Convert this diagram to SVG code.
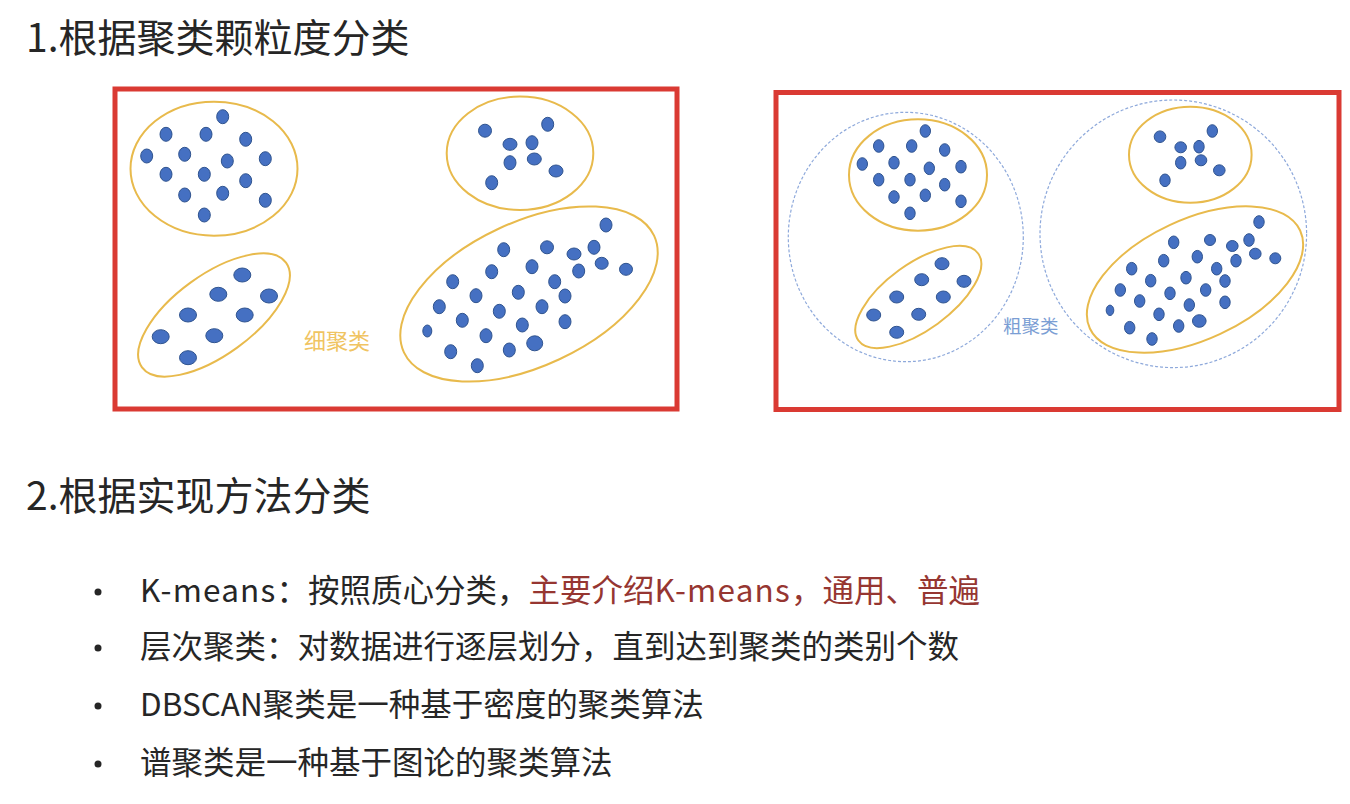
<svg xmlns="http://www.w3.org/2000/svg" width="1350" height="804" viewBox="0 0 1350 804">
<style>
.t{font-family:"Noto Sans CJK SC","Noto Sans",sans-serif;fill:#262626}
.h{font-size:39px}
.b{font-size:31.5px}
.lat{letter-spacing:1.2px}
.box{fill:none;stroke:#DA3A33;stroke-width:5}
.g{fill:none;stroke:#E8BA4C;stroke-width:2}
.dash{fill:none;stroke:#8EA9DB;stroke-width:1.2;stroke-dasharray:3 2}
.d{fill:#4570C2;stroke:#30548F;stroke-width:1}
</style>
<rect width="1350" height="804" fill="#fff"/>
<g id="heading1"><text class="t h" x="26" y="52">1.根据聚类颗粒度分类</text></g>

<g id="fine-clustering">
<rect class="box" x="115" y="89" width="562" height="320"/>
<ellipse class="g" cx="214" cy="168.7" rx="83.5" ry="67"/>
<g>
<ellipse class="d" cx="222.7" cy="116.7" rx="6" ry="7"/>
<ellipse class="d" cx="166" cy="134.3" rx="6" ry="7"/>
<ellipse class="d" cx="206" cy="134.3" rx="6" ry="7"/>
<ellipse class="d" cx="245.7" cy="139.3" rx="6" ry="7"/>
<ellipse class="d" cx="146.7" cy="156" rx="6" ry="7"/>
<ellipse class="d" cx="184.7" cy="154.3" rx="6" ry="7"/>
<ellipse class="d" cx="227.3" cy="161" rx="6" ry="7"/>
<ellipse class="d" cx="265.3" cy="158.7" rx="6" ry="7"/>
<ellipse class="d" cx="166" cy="174.3" rx="6" ry="7"/>
<ellipse class="d" cx="204.3" cy="174.3" rx="6" ry="7"/>
<ellipse class="d" cx="245.7" cy="180.7" rx="6" ry="7"/>
<ellipse class="d" cx="184.7" cy="195" rx="6" ry="7"/>
<ellipse class="d" cx="222.7" cy="193.3" rx="6" ry="7"/>
<ellipse class="d" cx="265.3" cy="200.3" rx="6" ry="7"/>
<ellipse class="d" cx="204.3" cy="215" rx="6" ry="7"/>
</g>
<ellipse class="g" cx="214" cy="315" rx="89" ry="40" transform="rotate(-36 214 315)"/>
<g>
<ellipse class="d" cx="242.3" cy="275" rx="8.5" ry="7"/>
<ellipse class="d" cx="218.3" cy="294.3" rx="8.5" ry="7"/>
<ellipse class="d" cx="269" cy="296" rx="8.5" ry="7"/>
<ellipse class="d" cx="188" cy="315" rx="8.5" ry="7"/>
<ellipse class="d" cx="244.7" cy="315" rx="8.5" ry="7"/>
<ellipse class="d" cx="160.7" cy="336.7" rx="8.5" ry="7"/>
<ellipse class="d" cx="214.3" cy="335.7" rx="8.5" ry="7"/>
<ellipse class="d" cx="188" cy="357.7" rx="8.5" ry="7"/>
</g>
<ellipse class="g" cx="520" cy="153.3" rx="73.3" ry="56.7"/>
<g>
<ellipse class="d" cx="485" cy="130.7" rx="6.5" ry="6.5"/>
<ellipse class="d" cx="547.7" cy="124.3" rx="6" ry="7"/>
<ellipse class="d" cx="510" cy="144.3" rx="7" ry="6"/>
<ellipse class="d" cx="532" cy="142.7" rx="6" ry="7"/>
<ellipse class="d" cx="510" cy="162.7" rx="6" ry="7"/>
<ellipse class="d" cx="534.3" cy="159" rx="7" ry="6"/>
<ellipse class="d" cx="556" cy="171" rx="7" ry="6"/>
<ellipse class="d" cx="491.7" cy="182.7" rx="6" ry="7"/>
</g>
<ellipse class="g" cx="529" cy="294" rx="138" ry="72" transform="rotate(-25 529 294)"/>
<g>
<ellipse class="d" cx="606" cy="225" rx="6" ry="7"/>
<ellipse class="d" cx="503.7" cy="249.7" rx="6" ry="7"/>
<ellipse class="d" cx="547" cy="247.3" rx="6.5" ry="6.5"/>
<ellipse class="d" cx="574" cy="254" rx="7" ry="6"/>
<ellipse class="d" cx="594" cy="247.3" rx="6" ry="7"/>
<ellipse class="d" cx="601.7" cy="263.3" rx="6.5" ry="6"/>
<ellipse class="d" cx="626" cy="269.3" rx="6.5" ry="6"/>
<ellipse class="d" cx="491.7" cy="271.7" rx="6" ry="7"/>
<ellipse class="d" cx="532" cy="266.7" rx="6" ry="7"/>
<ellipse class="d" cx="578.7" cy="271" rx="6" ry="7"/>
<ellipse class="d" cx="452.7" cy="281.7" rx="6" ry="7"/>
<ellipse class="d" cx="554.7" cy="281.7" rx="6" ry="7"/>
<ellipse class="d" cx="476" cy="295.7" rx="6" ry="7"/>
<ellipse class="d" cx="518.3" cy="292.3" rx="6" ry="7"/>
<ellipse class="d" cx="565" cy="296" rx="6" ry="7"/>
<ellipse class="d" cx="439.3" cy="306.7" rx="6" ry="7"/>
<ellipse class="d" cx="499.3" cy="311.3" rx="6" ry="7"/>
<ellipse class="d" cx="542" cy="306.7" rx="6" ry="7"/>
<ellipse class="d" cx="462.3" cy="320.3" rx="6" ry="7"/>
<ellipse class="d" cx="522.3" cy="325" rx="6" ry="7"/>
<ellipse class="d" cx="565" cy="321.7" rx="6" ry="7"/>
<ellipse class="d" cx="427.3" cy="331" rx="4.5" ry="6"/>
<ellipse class="d" cx="486" cy="335.7" rx="6" ry="7"/>
<ellipse class="d" cx="534.7" cy="343.3" rx="8" ry="7.5"/>
<ellipse class="d" cx="450.7" cy="351.7" rx="6" ry="7"/>
<ellipse class="d" cx="509.3" cy="350" rx="6" ry="7"/>
<ellipse class="d" cx="477.3" cy="365.7" rx="6" ry="7"/>
</g>
<text x="304" y="349" font-family="Noto Sans CJK SC, sans-serif" font-size="22" fill="#F0C462">细聚类</text>
</g>

<g id="coarse-clustering">
<rect class="box" x="776" y="92.5" width="563" height="317"/>
<ellipse class="dash" cx="905.8" cy="237" rx="117.5" ry="124.7"/>
<ellipse class="dash" cx="1173.3" cy="233.8" rx="133.3" ry="133.8"/>
<ellipse class="g" cx="918" cy="175" rx="69" ry="55.7"/>
<g>
<ellipse class="d" cx="925.3" cy="131" rx="5.2" ry="6.3"/>
<ellipse class="d" cx="878.7" cy="146" rx="5.2" ry="6.3"/>
<ellipse class="d" cx="911.7" cy="146" rx="5.2" ry="6.3"/>
<ellipse class="d" cx="944.7" cy="150" rx="5.2" ry="6.3"/>
<ellipse class="d" cx="862.3" cy="164" rx="5.2" ry="6.3"/>
<ellipse class="d" cx="894" cy="162.7" rx="5.2" ry="6.3"/>
<ellipse class="d" cx="929.3" cy="168.3" rx="5.2" ry="6.3"/>
<ellipse class="d" cx="961" cy="166.7" rx="5.2" ry="6.3"/>
<ellipse class="d" cx="878.7" cy="179.7" rx="5.2" ry="6.3"/>
<ellipse class="d" cx="910" cy="179.7" rx="5.2" ry="6.3"/>
<ellipse class="d" cx="944.7" cy="184.7" rx="5.2" ry="6.3"/>
<ellipse class="d" cx="894" cy="197" rx="5.2" ry="6.3"/>
<ellipse class="d" cx="925.3" cy="195.3" rx="5.2" ry="6.3"/>
<ellipse class="d" cx="961" cy="201.3" rx="5.2" ry="6.3"/>
<ellipse class="d" cx="910" cy="213.3" rx="5.2" ry="6.3"/>
</g>
<ellipse class="g" cx="918.3" cy="297" rx="74" ry="33" transform="rotate(-36 918.3 297)"/>
<g>
<ellipse class="d" cx="942" cy="263.7" rx="7" ry="6"/>
<ellipse class="d" cx="921.7" cy="279.7" rx="7" ry="6"/>
<ellipse class="d" cx="964" cy="281.3" rx="7" ry="6"/>
<ellipse class="d" cx="896.7" cy="297" rx="7" ry="6"/>
<ellipse class="d" cx="943.3" cy="297" rx="7" ry="6"/>
<ellipse class="d" cx="873.7" cy="315" rx="7" ry="6"/>
<ellipse class="d" cx="918.7" cy="314.3" rx="7" ry="6"/>
<ellipse class="d" cx="896.7" cy="332.3" rx="7" ry="6"/>
</g>
<ellipse class="g" cx="1190.3" cy="154.7" rx="61.3" ry="48"/>
<g>
<ellipse class="d" cx="1160" cy="136.7" rx="5.8" ry="5.8"/>
<ellipse class="d" cx="1212.3" cy="131" rx="5.2" ry="6.3"/>
<ellipse class="d" cx="1180.7" cy="147.3" rx="5.8" ry="5.5"/>
<ellipse class="d" cx="1199" cy="146.7" rx="5.2" ry="6.3"/>
<ellipse class="d" cx="1180.7" cy="162.7" rx="5.2" ry="6.3"/>
<ellipse class="d" cx="1201" cy="160.3" rx="5.8" ry="5.5"/>
<ellipse class="d" cx="1219.3" cy="170.3" rx="5.8" ry="5.5"/>
<ellipse class="d" cx="1165" cy="180.3" rx="5.2" ry="6.3"/>
</g>
<ellipse class="g" cx="1195" cy="279.5" rx="116" ry="60" transform="rotate(-25 1195 279.5)"/>
<g>
<ellipse class="d" cx="1259" cy="222" rx="5.2" ry="6.3"/>
<ellipse class="d" cx="1173.7" cy="242.3" rx="5.2" ry="6.3"/>
<ellipse class="d" cx="1210" cy="240" rx="5.5" ry="5.5"/>
<ellipse class="d" cx="1232.3" cy="246" rx="5.8" ry="5.5"/>
<ellipse class="d" cx="1249" cy="240" rx="5.2" ry="6.3"/>
<ellipse class="d" cx="1255.3" cy="253.7" rx="5.8" ry="5.5"/>
<ellipse class="d" cx="1275.3" cy="258.3" rx="5.5" ry="5.5"/>
<ellipse class="d" cx="1163.7" cy="260.7" rx="5.2" ry="6.3"/>
<ellipse class="d" cx="1197.3" cy="256.7" rx="5.2" ry="6.3"/>
<ellipse class="d" cx="1236" cy="260.7" rx="5.2" ry="6.3"/>
<ellipse class="d" cx="1131.7" cy="268.7" rx="5.2" ry="6.3"/>
<ellipse class="d" cx="1216.7" cy="268.7" rx="5.2" ry="6.3"/>
<ellipse class="d" cx="1150.7" cy="280.7" rx="5.2" ry="6.3"/>
<ellipse class="d" cx="1186" cy="277.7" rx="5.2" ry="6.3"/>
<ellipse class="d" cx="1225" cy="281" rx="5.2" ry="6.3"/>
<ellipse class="d" cx="1120.3" cy="290" rx="5.2" ry="6.3"/>
<ellipse class="d" cx="1170" cy="293.3" rx="5.2" ry="6.3"/>
<ellipse class="d" cx="1205.7" cy="290" rx="5.2" ry="6.3"/>
<ellipse class="d" cx="1139.7" cy="301" rx="5.2" ry="6.3"/>
<ellipse class="d" cx="1189.3" cy="305" rx="5.2" ry="6.3"/>
<ellipse class="d" cx="1225" cy="302.3" rx="5.2" ry="6.3"/>
<ellipse class="d" cx="1110" cy="310.3" rx="3.8" ry="5.2"/>
<ellipse class="d" cx="1159" cy="314.3" rx="5.2" ry="6.3"/>
<ellipse class="d" cx="1199.3" cy="321" rx="6.8" ry="6.3"/>
<ellipse class="d" cx="1129.7" cy="327.7" rx="5.2" ry="6.3"/>
<ellipse class="d" cx="1178.7" cy="326" rx="5.2" ry="6.3"/>
<ellipse class="d" cx="1152" cy="339" rx="5.2" ry="6.3"/>
</g>
<text x="1003" y="333" font-family="Noto Sans CJK SC, sans-serif" font-size="18.5" fill="#7B9ED4">粗聚类</text>
</g>

<g id="heading2"><text class="t h" x="26" y="510">2.根据实现方法分类</text></g>

<g id="list">
<circle cx="98" cy="592" r="3.5" fill="#262626"/>
<text class="t b" x="140" y="602"><tspan class="lat">K-means</tspan>：按照质心分类，<tspan fill="#963631">主要介绍<tspan class="lat">K-means</tspan>，通用、普遍</tspan></text>
<circle cx="98" cy="648" r="3.5" fill="#262626"/>
<text class="t b" x="140" y="658">层次聚类：对数据进行逐层划分，直到达到聚类的类别个数</text>
<circle cx="98" cy="706" r="3.5" fill="#262626"/>
<text class="t b" x="140" y="716">DBSCAN聚类是一种基于密度的聚类算法</text>
<circle cx="98" cy="764" r="3.5" fill="#262626"/>
<text class="t b" x="140" y="774">谱聚类是一种基于图论的聚类算法</text>
</g>
</svg>
